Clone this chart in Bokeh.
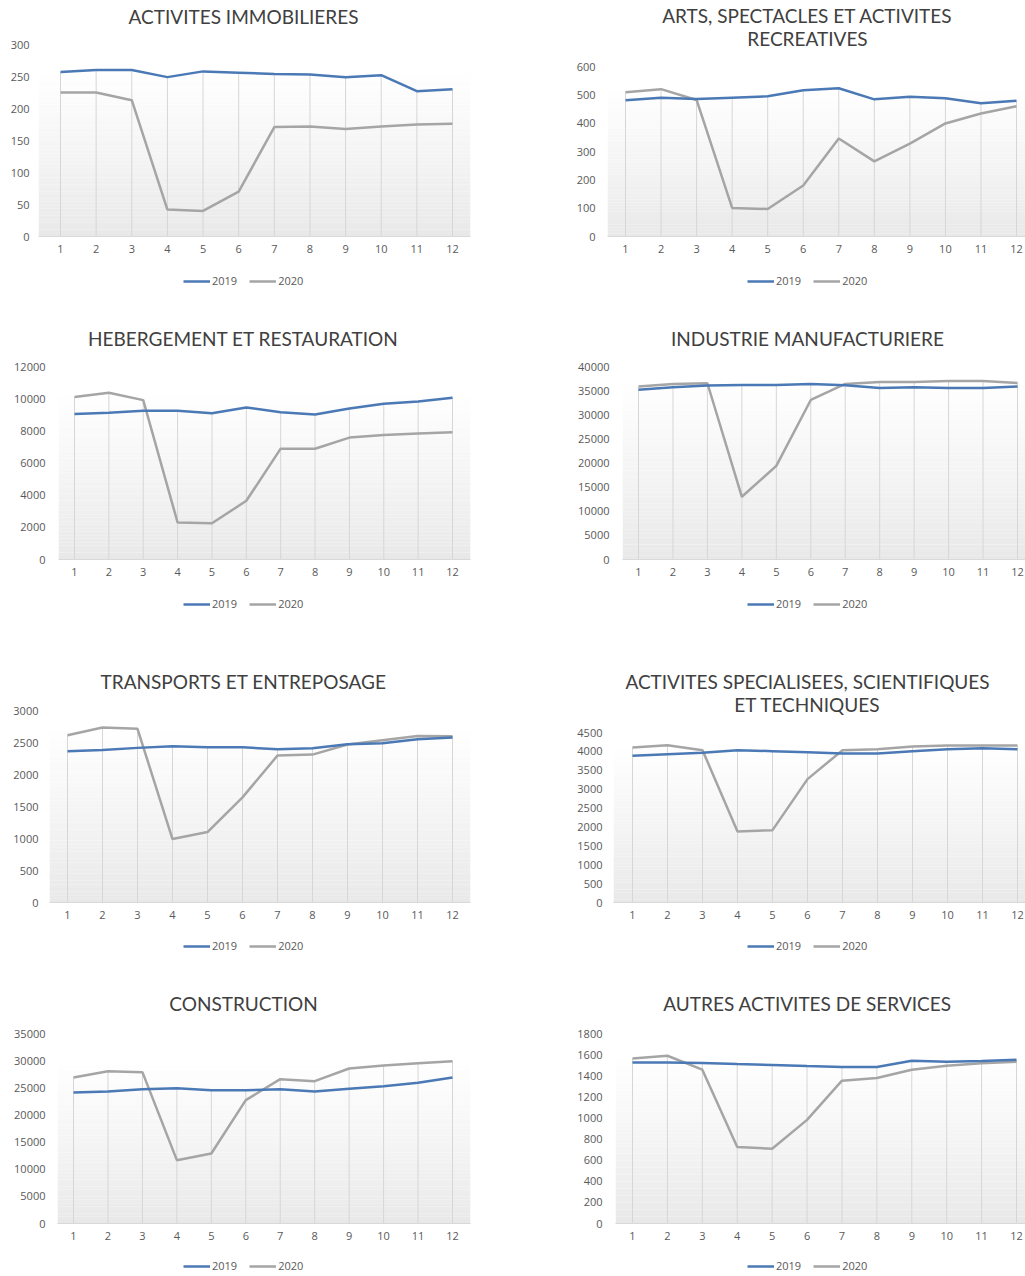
import numpy as np
from bokeh.plotting import figure
from bokeh.layouts import row, column
from bokeh.models import FixedTicker, Range1d, Legend, LegendItem
from bokeh.core.properties import value
from bokeh.embed import file_html
from bokeh.resources import INLINE

months = list(range(1, 13))
series_names = ["2019", "2020"]

immo_title = ["ACTIVITES IMMOBILIERES"]
immo_2019 = [257, 260, 260, 249, 258, 256, 254, 253, 249, 252, 227, 230]
immo_2020 = [225, 225, 213, 42, 40, 70, 171, 172, 168, 172, 175, 176]
immo_ymax, immo_step = 300, 50

arts_title = ["ARTS, SPECTACLES ET ACTIVITES", "RECREATIVES"]
arts_2019 = [481, 490, 485, 490, 495, 516, 523, 484, 493, 488, 470, 479]
arts_2020 = [509, 520, 482, 101, 97, 180, 346, 265, 328, 399, 434, 460]
arts_ymax, arts_step = 600, 100

heb_title = ["HEBERGEMENT ET RESTAURATION"]
heb_2019 = [9040, 9120, 9245, 9245, 9100, 9450, 9160, 9020, 9390, 9680, 9830, 10060]
heb_2020 = [10100, 10370, 9910, 2300, 2250, 3650, 6890, 6890, 7580, 7740, 7830, 7910]
heb_ymax, heb_step = 12000, 2000

ind_title = ["INDUSTRIE MANUFACTURIERE"]
ind_2019 = [35200, 35700, 36040, 36180, 36180, 36390, 36110, 35560, 35690, 35560, 35560, 35830]
ind_2020 = [35830, 36390, 36530, 13000, 19400, 33060, 36390, 36810, 36810, 37010, 37010, 36600]
ind_ymax, ind_step = 40000, 5000

trans_title = ["TRANSPORTS ET ENTREPOSAGE"]
trans_2019 = [2363, 2384, 2416, 2442, 2426, 2426, 2395, 2410, 2473, 2490, 2551, 2577]
trans_2020 = [2614, 2734, 2713, 991, 1101, 1643, 2296, 2311, 2468, 2536, 2603, 2598]
trans_ymax, trans_step = 3000, 500

spec_title = ["ACTIVITES SPECIALISEES, SCIENTIFIQUES", "ET TECHNIQUES"]
spec_2019 = [3882, 3926, 3962, 4032, 4006, 3979, 3944, 3944, 4006, 4059, 4085, 4059]
spec_2020 = [4103, 4165, 4032, 1879, 1915, 3265, 4032, 4059, 4129, 4156, 4156, 4156]
spec_ymax, spec_step = 4500, 500

cons_title = ["CONSTRUCTION"]
cons_2019 = [24130, 24320, 24745, 24930, 24560, 24560, 24745, 24320, 24810, 25300, 25910, 26900]
cons_2020 = [26900, 28060, 27880, 11670, 12900, 22720, 26590, 26220, 28550, 29100, 29540, 29900]
cons_ymax, cons_step = 35000, 5000

autres_title = ["AUTRES ACTIVITES DE SERVICES"]
autres_2019 = [1526, 1526, 1520, 1510, 1501, 1491, 1482, 1482, 1542, 1532, 1539, 1551]
autres_2020 = [1564, 1589, 1457, 724, 708, 982, 1353, 1378, 1457, 1495, 1517, 1532]
autres_ymax, autres_step = 1800, 200

BLUE = "#4a79b5"
GRAY = "#a5a5a5"
TICK_FONT = "Open Sans"
TITLE_FONT = "Lato"
TXT = "#595959"


def lerp_hex(c0, c1, t):
    a = [int(c0[i:i + 2], 16) for i in (1, 3, 5)]
    b = [int(c1[i:i + 2], 16) for i in (1, 3, 5)]
    return "#%02x%02x%02x" % tuple(int(round(a[k] + (b[k] - a[k]) * t)) for k in range(3))


# geometry (pixels, relative to each figure): style only
# fig_w, fig_h, border_left, border_right, border_top, border_bottom,
# px of month 1 / month 12 from frame left, px of top tick from figure top,
# title line centres (x from fig left, y from fig top), y label standoff
def make_chart(title_lines, y19, y20, ymax, ystep, g):
    fw, fh, bl, br, bt, bb, dx1, dx12, ptop, tx, tys, so = g
    frame_w = fw - bl - br
    unit = (dx12 - dx1) / 11.0
    x0 = 1 - dx1 / unit
    x1 = 12 + (frame_w - dx12) / unit
    T = bt
    B = fh - bb
    y_top = ymax * (B - T) / (B - ptop)

    def px2x(px):
        return x0 + (px - bl) / unit

    def py2y(py):
        return (B - py) / (B - ptop) * ymax

    p = figure(width=fw, height=fh, output_backend="svg", toolbar_location=None,
               x_range=Range1d(x0, x1), y_range=Range1d(0, y_top),
               min_border_left=bl, min_border_right=br, min_border_top=bt, min_border_bottom=bb,
               background_fill_color="white", border_fill_color="white")
    p.outline_line_color = None
    p.xgrid.grid_line_color = None
    p.ygrid.grid_line_color = None

    top = max(max(y19), max(y20))
    n = 48
    edges = np.linspace(0, top, n + 1)
    cols = [lerp_hex("#e8e8e8", "#ffffff", ((i + 0.5) / n) ** 0.9) for i in range(n)]
    p.quad(left=[x0] * n, right=[x1] * n, bottom=list(edges[:-1]), top=list(edges[1:]),
           fill_color=cols, line_color=None)

    hi = np.maximum(np.array(y19), np.array(y20))
    p.segment(x0=months, y0=[0] * 12, x1=months, y1=list(hi), line_color="#d6d6d6", line_width=1)

    p.line(months, y20, line_color=GRAY, line_width=2.5)
    p.line(months, y19, line_color=BLUE, line_width=2.5)

    p.text(x=[px2x(tx)] * len(title_lines), y=[py2y(v) for v in tys[:len(title_lines)]],
           text=title_lines, text_font=value(TITLE_FONT), text_font_size="19px",
           text_align="center", text_baseline="middle", text_color="#404040")

    p.xaxis.ticker = FixedTicker(ticks=months)
    p.yaxis.ticker = FixedTicker(ticks=list(range(0, ymax + 1, ystep)))
    for ax in (p.xaxis[0], p.yaxis[0]):
        ax.major_tick_line_color = None
        ax.minor_tick_line_color = None
        ax.major_tick_out = 0
        ax.major_tick_in = 0
        ax.major_label_text_font = TICK_FONT
        ax.major_label_text_font_size = "11px"
        ax.major_label_text_color = TXT
    p.yaxis.axis_line_color = None
    p.yaxis.major_label_standoff = so
    p.xaxis.axis_line_color = "#d9d9d9"
    p.xaxis.major_label_standoff = 8
    return p


def make_legend(y19, y20, fw, fh, cx):
    q = figure(width=fw, height=fh, output_backend="svg", toolbar_location=None,
               x_range=Range1d(0, 1), y_range=Range1d(0, 1),
               x_axis_location=None, y_axis_location=None,
               min_border_left=0, min_border_right=0, min_border_top=0, min_border_bottom=0,
               background_fill_color="white", border_fill_color="white")
    q.outline_line_color = None
    q.xgrid.grid_line_color = None
    q.ygrid.grid_line_color = None
    r19 = q.line(months, y19, line_color=BLUE, line_width=2.5)
    r20 = q.line(months, y20, line_color=GRAY, line_width=2.5)
    lw = 2 * (27 + 2 + 25) + 12
    legend = Legend(items=[LegendItem(label=series_names[0], renderers=[r19]),
                           LegendItem(label=series_names[1], renderers=[r20])],
                    orientation="horizontal", location=(int(cx - lw / 2 - 2), int((fh - 20) / 2)),
                    glyph_width=27, glyph_height=14, label_height=14,
                    label_standoff=2, spacing=12, padding=3, margin=0,
                    label_text_font=TICK_FONT, label_text_font_size="11px",
                    label_text_color=TXT, label_text_baseline="middle",
                    border_line_color=None, background_fill_alpha=0)
    q.add_layout(legend)
    return q


LW, RW = 520, 505
g1 = (LW, 262, 38, 50, 2, 26, 22, 414, 44, 243, [16], 9)
g2 = (RW, 262, 87, 0, 2, 26, 18, 409, 66, 287, [15, 38], 12)
g3 = (LW, 291, 58, 50, 2, 26, 16, 394, 366 - 294, 243, [338 - 294], 13)
g4 = (RW, 291, 102, 0, 2, 26, 16, 395, 366 - 294, 287, [338 - 294], 13)
g5 = (LW, 311, 49, 50, 2, 26, 18, 403, 710 - 617, 243, [681 - 617], 11)
g6 = (RW, 311, 93, 0, 2, 26, 19, 404, 732 - 617, 287, [681 - 617, 704 - 617], 11)
g7 = (LW, 291, 57, 50, 2, 26, 16, 395, 1033 - 958, 243, [1003 - 958], 12)
g8 = (RW, 291, 95, 0, 2, 26, 17, 401, 1033 - 958, 287, [1003 - 958], 13)

p1 = make_chart(immo_title, immo_2019, immo_2020, immo_ymax, immo_step, g1)
p2 = make_chart(arts_title, arts_2019, arts_2020, arts_ymax, arts_step, g2)
p3 = make_chart(heb_title, heb_2019, heb_2020, heb_ymax, heb_step, g3)
p4 = make_chart(ind_title, ind_2019, ind_2020, ind_ymax, ind_step, g4)
p5 = make_chart(trans_title, trans_2019, trans_2020, trans_ymax, trans_step, g5)
p6 = make_chart(spec_title, spec_2019, spec_2020, spec_ymax, spec_step, g6)
p7 = make_chart(cons_title, cons_2019, cons_2020, cons_ymax, cons_step, g7)
p8 = make_chart(autres_title, autres_2019, autres_2020, autres_ymax, autres_step, g8)

l1 = make_legend(immo_2019, immo_2020, LW, 32, 245)
l2 = make_legend(arts_2019, arts_2020, RW, 32, 289)
l3 = make_legend(heb_2019, heb_2020, LW, 32, 245)
l4 = make_legend(ind_2019, ind_2020, RW, 32, 289)
l5 = make_legend(trans_2019, trans_2020, LW, 30, 245)
l6 = make_legend(spec_2019, spec_2020, RW, 30, 289)
l7 = make_legend(cons_2019, cons_2020, LW, 27, 245)
l8 = make_legend(autres_2019, autres_2020, RW, 27, 289)

layout = column(row(p1, p2), row(l1, l2), row(p3, p4), row(l3, l4),
                row(p5, p6), row(l5, l6), row(p7, p8), row(l7, l8))
open("out.html", "w").write(file_html(layout, INLINE))
